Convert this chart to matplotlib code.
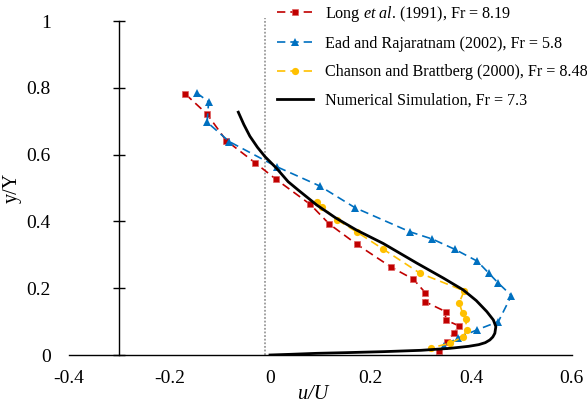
import matplotlib.pyplot as plt

# Long et al. (1991), Fr = 8.19
long_u = [-0.168, -0.125, -0.087, -0.030, 0.012, 0.080, 0.118, 0.172, 0.241,
          0.285, 0.309, 0.309, 0.349, 0.349, 0.376, 0.366, 0.351, 0.335]
long_y = [0.781, 0.721, 0.642, 0.576, 0.526, 0.451, 0.392, 0.332, 0.263,
          0.227, 0.186, 0.159, 0.130, 0.105, 0.087, 0.066, 0.040, 0.012]

# Ead and Rajaratnam (2002), Fr = 5.8
ead_u = [-0.146, -0.122, -0.125, -0.081, 0.013, 0.099, 0.169, 0.278, 0.323,
         0.368, 0.412, 0.435, 0.454, 0.480, 0.454, 0.411, 0.374, 0.345]
ead_y = [0.785, 0.758, 0.697, 0.639, 0.564, 0.506, 0.441, 0.369, 0.347,
         0.316, 0.281, 0.245, 0.215, 0.178, 0.100, 0.075, 0.051, 0.028]

# Chanson and Brattberg (2000), Fr = 8.48
chan_u = [0.094, 0.103, 0.134, 0.172, 0.225, 0.298, 0.386, 0.376, 0.383,
          0.389, 0.391, 0.384, 0.358, 0.321]
chan_y = [0.457, 0.444, 0.404, 0.369, 0.317, 0.245, 0.192, 0.156, 0.125,
          0.107, 0.075, 0.055, 0.035, 0.022]

# Numerical simulation, Fr = 7.3
num_u = [-0.063, -0.052, -0.040, -0.025, -0.010, 0.013, 0.036, 0.056,
         0.093, 0.130, 0.172, 0.225, 0.292, 0.345, 0.384, 0.410, 0.431,
         0.444, 0.449, 0.447, 0.443, 0.437, 0.428, 0.415, 0.395, 0.358,
         0.300, 0.225, 0.150, 0.093, 0.040, 0.0]
num_y = [0.727, 0.690, 0.655, 0.622, 0.594, 0.559, 0.519, 0.494,
         0.449, 0.411, 0.374, 0.334, 0.275, 0.230, 0.195, 0.163, 0.130,
         0.105, 0.085, 0.065, 0.054, 0.045, 0.037, 0.031, 0.026, 0.020,
         0.014, 0.010, 0.007, 0.005, 0.002, 0.0]

x_ticks = [-0.4, -0.2, 0, 0.2, 0.4, 0.6]
x_labels = ["-0.4", "-0.2", "0", "0.2", "0.4", "0.6"]
y_ticks = [0, 0.2, 0.4, 0.6, 0.8, 1.0]
y_labels = ["0", "0.2", "0.4", "0.6", "0.8", "1"]

RED = "#C00000"
BLUE = "#0070C0"
YELLOW = "#FFC000"


def main():
    plt.rcParams["font.family"] = "Liberation Serif"
    plt.rcParams["mathtext.fontset"] = "custom"
    plt.rcParams["mathtext.rm"] = "Liberation Serif"
    plt.rcParams["mathtext.it"] = "Liberation Serif:italic"
    plt.rcParams["axes.unicode_minus"] = False

    fig = plt.figure(figsize=(5.87, 4.08), dpi=100)
    ax = fig.add_axes([68.8 / 587, 53 / 408, 503 / 587, 334 / 408])
    ax.set_xlim(-0.4, 0.6)
    ax.set_ylim(0, 1)

    # dotted reference line
    ax.axvline(-0.01, ymin=0, ymax=1.01, color="#9a9a9a", ls=(0, (1, 1)),
               lw=1.3, zorder=1, clip_on=False)

    dash = dict(lw=1.2, dashes=(5, 3), zorder=2)
    ax.plot(long_u, long_y, color=RED, marker="s", ms=4.8, mec="#e06060",
            mew=0.5, label=r"Long $\it{et\ al}$. (1991), Fr = 8.19", **dash)
    ax.plot(ead_u, ead_y, color=BLUE, marker="^", ms=5.2, mew=0,
            label="Ead and Rajaratnam (2002), Fr = 5.8", **dash)
    ax.plot(chan_u, chan_y, color=YELLOW, marker="o", ms=5.2, mew=0,
            label="Chanson and Brattberg (2000), Fr = 8.48", **dash)
    ax.plot(num_u, num_y, color="black", lw=2, zorder=3,
            solid_joinstyle="round",
            label="Numerical Simulation, Fr = 7.3")

    # axes styling
    ax.spines["top"].set_visible(False)
    ax.spines["right"].set_visible(False)
    ax.spines["left"].set_position(("data", -0.3))
    ax.spines["left"].set_linewidth(1)
    ax.spines["bottom"].set_linewidth(1)

    ax.set_xticks(x_ticks)
    ax.set_xticklabels(x_labels)
    ax.set_yticks(y_ticks)
    ax.set_yticklabels(y_labels)
    ax.tick_params(axis="x", length=0, pad=11, labelsize=14)
    ax.tick_params(axis="y", direction="inout", length=8.5, width=1,
                   pad=45, labelsize=14)

    ax.set_xlabel("u/U", fontsize=14.5, fontstyle="italic")
    ax.xaxis.set_label_coords(0.486, -0.09)
    ax.set_ylabel("y/Y", fontsize=14.5)
    ax.yaxis.set_label_coords(-0.093, 0.5)

    ax.legend(loc="upper left", bbox_to_anchor=(277 / 587, 1 - 4 / 408),
              bbox_transform=fig.transFigure, frameon=False, fontsize=11.6,
              handlelength=2.25, handletextpad=0.7, labelspacing=0.75,
              borderpad=0, borderaxespad=0)

    fig.savefig("out.png", dpi=100)
    plt.close(fig)


if __name__ == "__main__":
    main()
